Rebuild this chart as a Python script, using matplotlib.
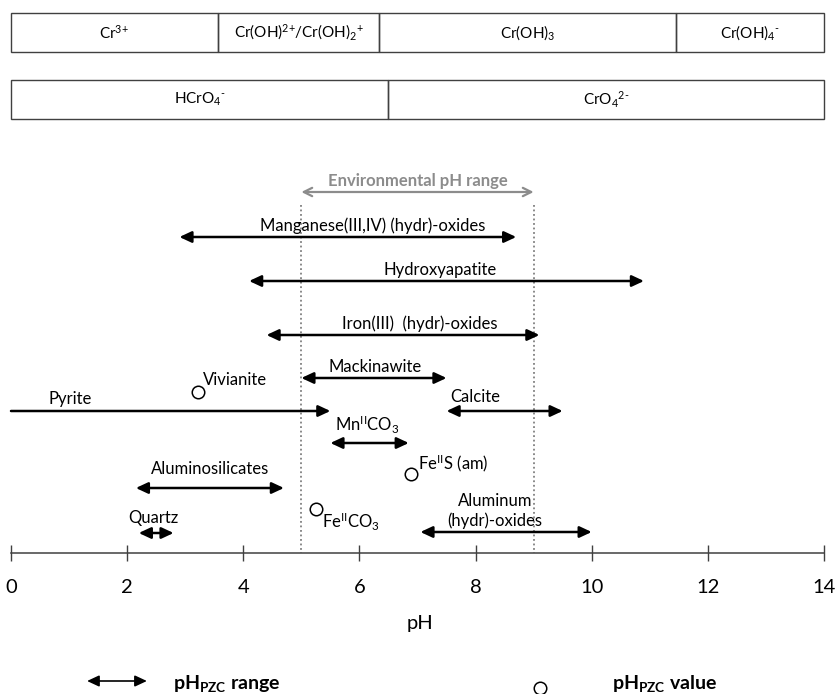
import numpy as np
import matplotlib.pyplot as plt
from matplotlib.patches import Rectangle

plt.rcParams['font.family'] = ['Lato', 'DejaVu Sans']
plt.rcParams['mathtext.fontset'] = 'custom'
plt.rcParams['mathtext.rm'] = 'Lato'
plt.rcParams['mathtext.it'] = 'Lato:italic'
plt.rcParams['mathtext.bf'] = 'Lato:bold'

# Cr(III) speciation bands (pH boundaries)
cr3_edges = [0, 3.56, 6.34, 11.45, 14]
cr3_labels = [r'Cr$\mathregular{^{3\text{+}}}$',
              r'Cr(OH)$\mathregular{^{2\text{+}}}$/Cr(OH)$\mathregular{_2{}^{\text{+}}}$',
              r'Cr(OH)$\mathregular{_3}$',
              r'Cr(OH)$\mathregular{_4{}^{\text{-}}}$']

# Cr(VI) speciation bands
cr6_edges = [0, 6.5, 14]
cr6_labels = [r'HCrO$\mathregular{_4{}^{\text{-}}}$',
              r'CrO$\mathregular{_4{}^{2\text{-}}}$']

env_lo, env_hi = 5.0, 9.0

# pH_PZC ranges
range_names = ['Manganese(III,IV) (hydr)-oxides', 'Hydroxyapatite',
               'Iron(III)  (hydr)-oxides', 'Mackinawite', 'Pyrite', 'Calcite',
               r'Mn$\mathregular{^{II}}$CO$\mathregular{_3}$', 'Aluminosilicates',
               'Aluminum\n(hydr)-oxides', 'Quartz']
range_lo = [2.9, 4.1, 4.4, 5.0, 0.0, 7.5, 5.5, 2.15, 7.05, 2.2]
range_hi = [8.7, 10.9, 9.1, 7.5, 5.5, 9.5, 6.85, 4.7, 10.0, 2.8]

# pH_PZC single values
point_names = ['Vivianite', r'Fe$\mathregular{^{II}}$S (am)',
               r'Fe$\mathregular{^{II}}$CO$\mathregular{_3}$']
point_ph = [3.22, 6.89, 5.25]

# layout (vertical positions in pixels from top)
arrow_y = [237, 281, 335, 378, 411, 411, 443, 488, 532, 533]
label_x = [6.22, 7.39, 7.04, 6.27, 1.02, 7.99, 6.13, 3.43, 8.33, 2.46]
label_y = [226, 270, 324, 367, 399, 397, 425, 469, 511, 518]
point_y = [392, 474, 509]
plabel_dx = [0.08, 0.12, 0.11]
plabel_y = [380, 463, 522]

fig = plt.figure(figsize=(8.39, 6.94), dpi=100)
ax = fig.add_axes([0, 0, 1, 1])
ax.set_xlim(-11 / 58.07, 14 + 15 / 58.07)
ax.set_ylim(694, 0)

# speciation boxes
for edges, labels, y0, y1 in [(cr3_edges, cr3_labels, 13, 52),
                              (cr6_edges, cr6_labels, 80, 119)]:
    for i in range(len(labels)):
        ax.add_patch(Rectangle((edges[i], y0), edges[i + 1] - edges[i], y1 - y0,
                               fill=False, ec='#404040', lw=1.0))
        ax.text((edges[i] + edges[i + 1]) / 2, (y0 + y1) / 2, labels[i],
                ha='center', va='center', fontsize=11)

# environmental pH range
ax.annotate('', xy=(env_hi, 192), xytext=(env_lo, 192),
            arrowprops=dict(arrowstyle='<->,head_length=0.5,head_width=0.25',
                            color='#8c8c8c', lw=1.6, mutation_scale=12,
                            shrinkA=0, shrinkB=0))
ax.text((env_lo + env_hi) / 2, 181, 'Environmental pH range', ha='center',
        va='center', fontsize=12, fontweight='bold', color='#8c8c8c')
ax.vlines([env_lo, env_hi], 205, 553, colors='#808080', linestyles=(0, (1, 1.5)),
          lw=1.3)

# ranges
for i, name in enumerate(range_names):
    style = '<|-|>' if range_lo[i] > 0 else '-|>'
    ax.annotate('', xy=(range_hi[i], arrow_y[i]), xytext=(range_lo[i], arrow_y[i]),
                arrowprops=dict(arrowstyle=style + ',head_length=0.6,head_width=0.28',
                                color='black', lw=1.8, mutation_scale=12,
                                shrinkA=0, shrinkB=0))
    ax.text(label_x[i], label_y[i], name, ha='center', va='center', fontsize=12,
            linespacing=1.25)

# single values
ax.plot(point_ph, point_y, 'o', mfc='white', mec='black', ms=9, mew=1.1)
for i, name in enumerate(point_names):
    ax.text(point_ph[i] + plabel_dx[i], plabel_y[i], name, ha='left', va='center',
            fontsize=12)

# pH axis
for s in ['top', 'left', 'right']:
    ax.spines[s].set_visible(False)
ax.spines['bottom'].set_position(('data', 553))
ax.spines['bottom'].set_bounds(0, 14)
ax.spines['bottom'].set_color('#404040')
ax.spines['bottom'].set_linewidth(1.1)
ax.set_xticks(np.arange(0, 15, 2))
ax.set_yticks([])
ax.tick_params(axis='x', direction='inout', length=12, width=1.0,
               color='#404040', labelsize=14.5, pad=13)
ax.set_xlabel('pH', fontsize=14.5)
ax.xaxis.set_label_coords(0.5, 1 - 615 / 694)

# legend
ax.annotate('', xy=(2.34, 681), xytext=(1.31, 681),
            arrowprops=dict(arrowstyle='<|-|>,head_length=0.6,head_width=0.28',
                            color='black', lw=1.2, mutation_scale=12,
                            shrinkA=0, shrinkB=0))
ax.text(2.79, 684, r'pH$\mathbf{_{PZC}}$ range', ha='left', va='center',
        fontsize=14, fontweight='bold')
ax.plot([9.11], [688], 'o', mfc='white', mec='black', ms=9, mew=1.1)
ax.text(10.35, 684, r'pH$\mathbf{_{PZC}}$ value', ha='left', va='center',
        fontsize=14, fontweight='bold')

fig.savefig('out.png', dpi=100)
